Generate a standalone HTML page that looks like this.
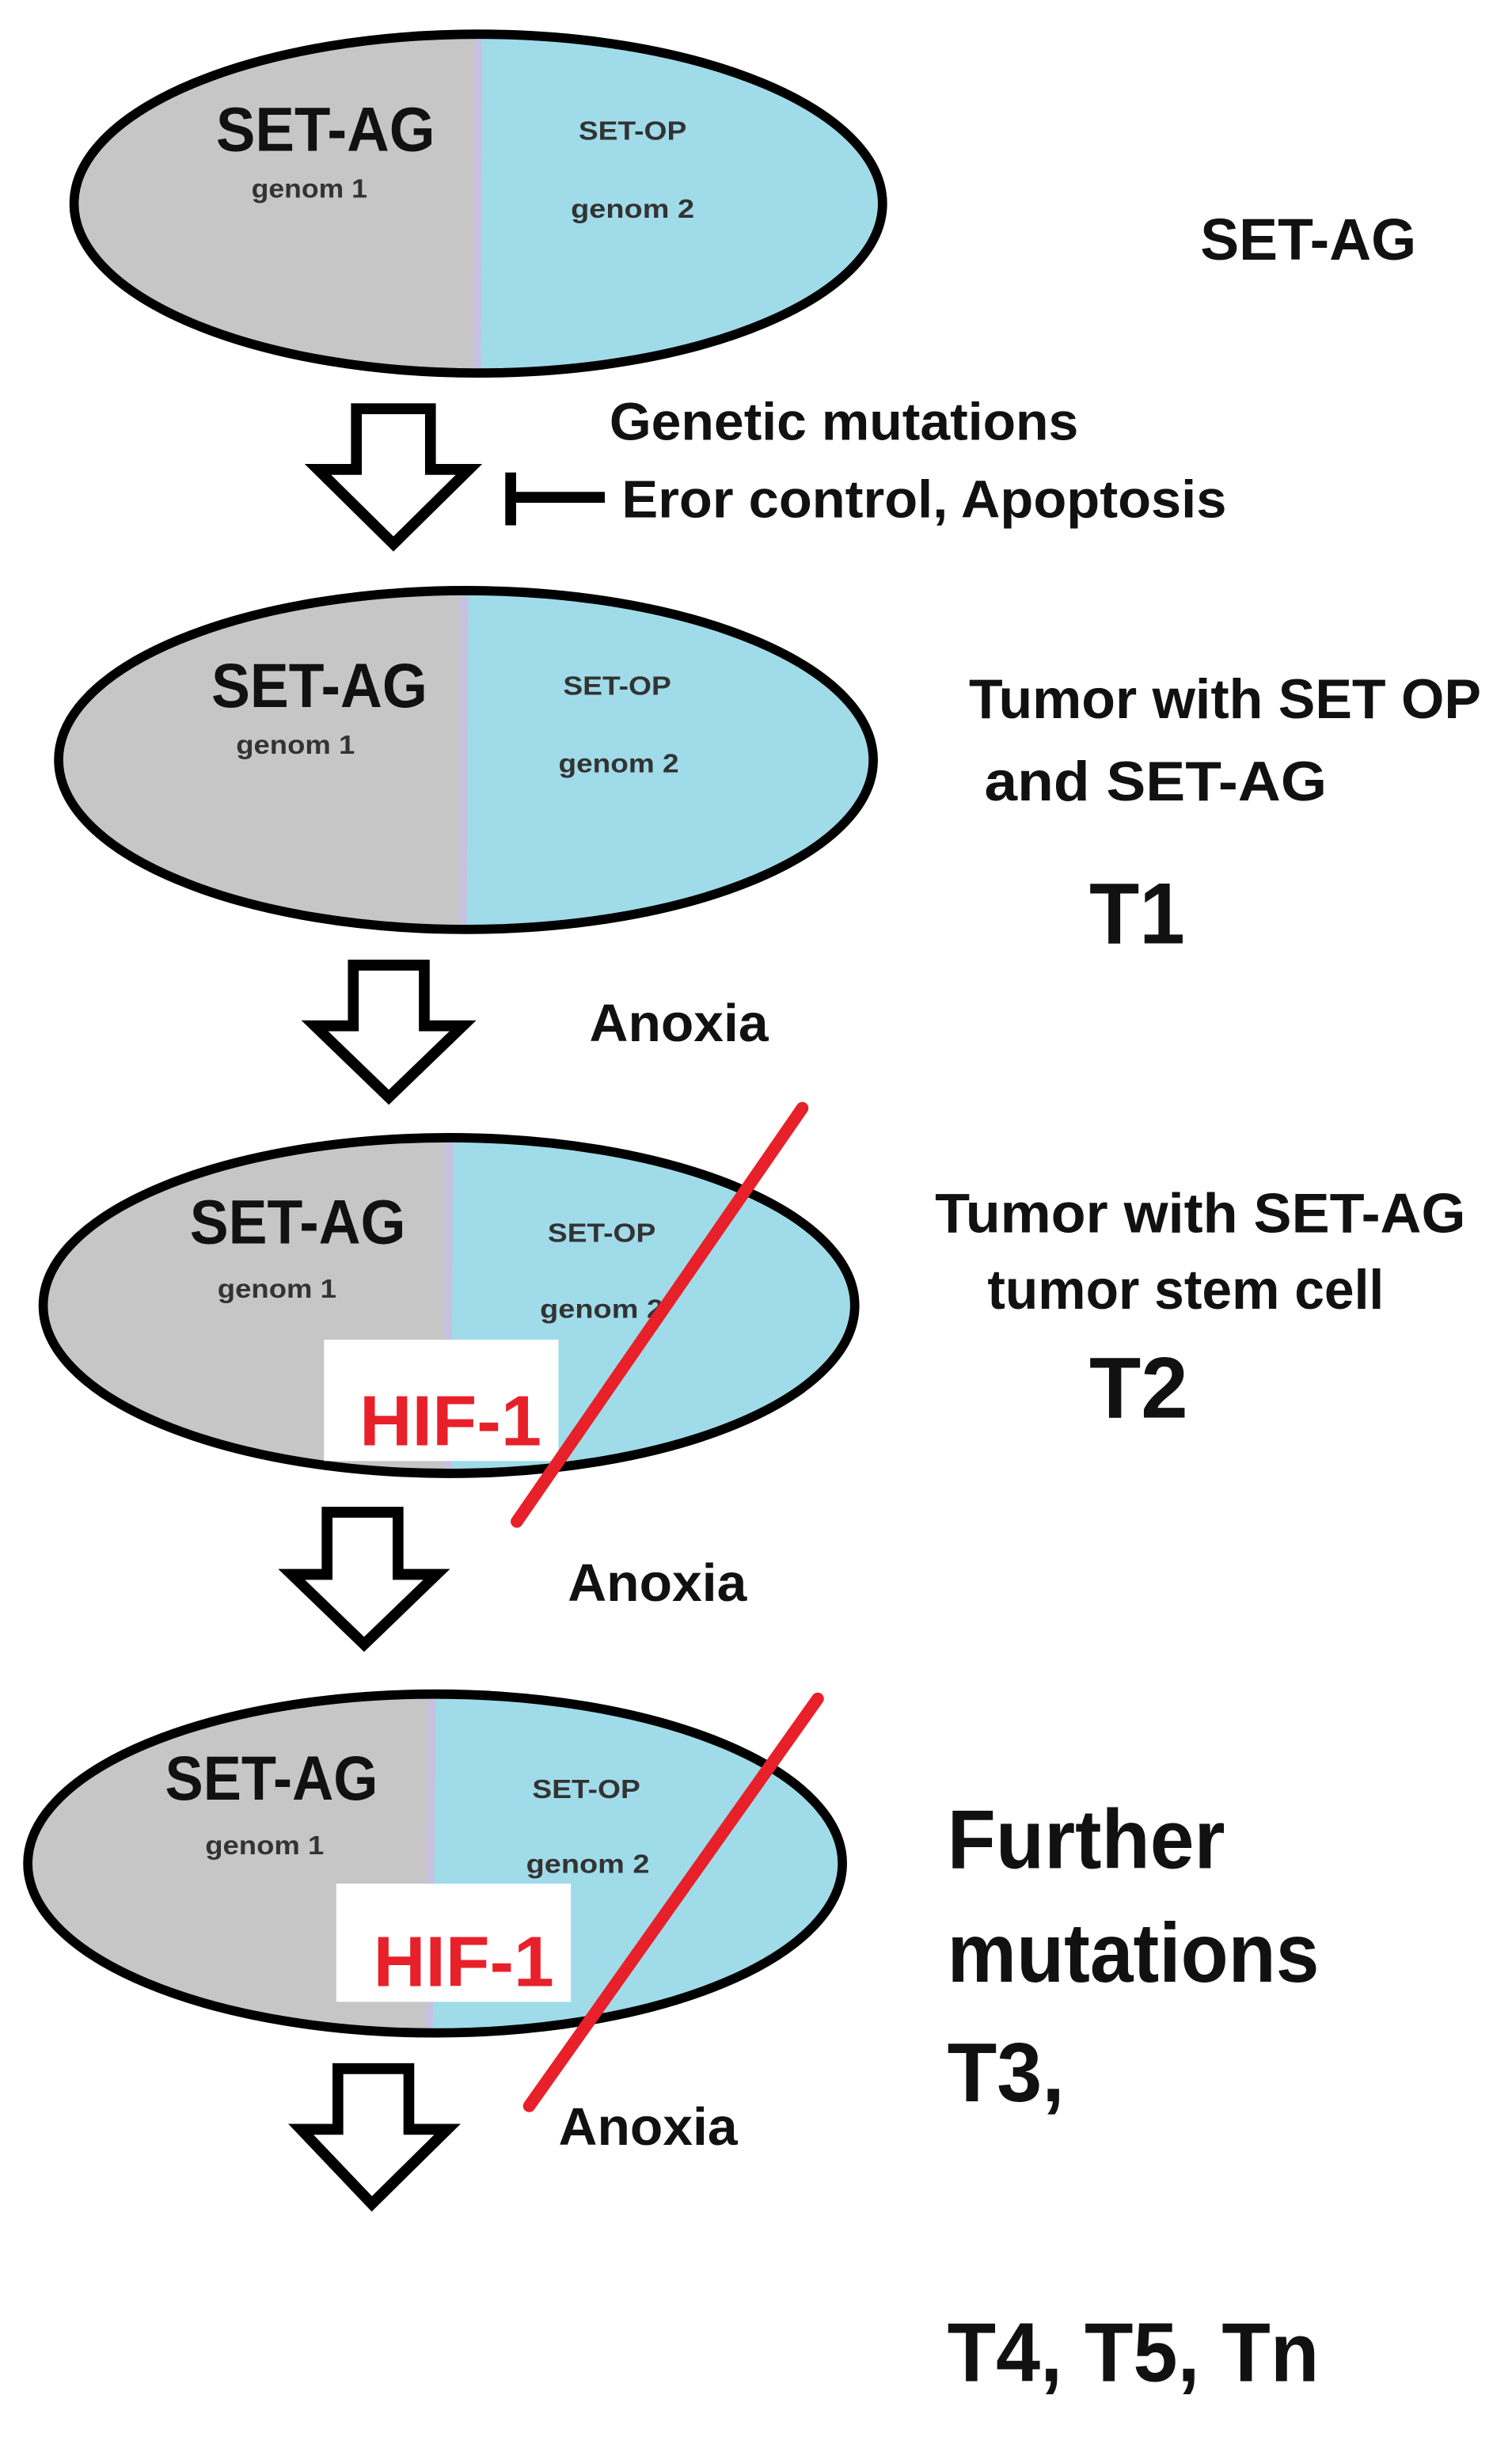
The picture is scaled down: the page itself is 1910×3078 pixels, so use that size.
<!DOCTYPE html>
<html><head><meta charset="utf-8"><style>
html,body{margin:0;padding:0;background:#fff;}
svg{display:block;}
text{font-family:"Liberation Sans Narrow","Liberation Sans",sans-serif;font-weight:bold;fill:#111;}
.s{font-weight:bold;fill:#333;}
</style></head><body>
<svg width="1910" height="3078" viewBox="0 0 980 1568" preserveAspectRatio="none" xmlns="http://www.w3.org/2000/svg">
<defs>
<clipPath id="c1"><rect x="0" y="0" width="310" height="300"/></clipPath>
<clipPath id="c2"><rect x="0" y="350" width="300" height="300"/></clipPath>
<clipPath id="c3"><rect x="0" y="700" width="290" height="300"/></clipPath>
<clipPath id="c4"><rect x="0" y="1060" width="280" height="300"/></clipPath>
</defs>

<!-- Ellipse 1 -->
<ellipse cx="310" cy="131" rx="262" ry="109" fill="#a0dbe9"/>
<ellipse cx="310" cy="131" rx="262" ry="109" fill="#c6c6c6" clip-path="url(#c1)"/>
<line x1="310" y1="24" x2="309" y2="238" stroke="#c8c0e0" stroke-width="5"/>
<ellipse cx="310" cy="131" rx="262" ry="109" fill="none" stroke="#000" stroke-width="6"/>
<text x="140" y="97" font-size="40" textLength="142" lengthAdjust="spacingAndGlyphs">SET-AG</text>
<text class="s" x="163" y="127" font-size="17" textLength="75" lengthAdjust="spacingAndGlyphs">genom 1</text>
<text class="s" x="375" y="90" font-size="17" textLength="70" lengthAdjust="spacingAndGlyphs">SET-OP</text>
<text class="s" x="370" y="140" font-size="17" textLength="80" lengthAdjust="spacingAndGlyphs">genom 2</text>
<text x="778" y="167" font-size="38" textLength="140" lengthAdjust="spacingAndGlyphs">SET-AG</text>

<!-- Arrow 1 + inhibitor -->
<path d="M231 263 H279 V302 H304 L255 350 L206 302 H231 Z" fill="#fff" stroke="#000" stroke-width="7" stroke-linejoin="miter"/>
<line x1="331" y1="304" x2="331" y2="338" stroke="#000" stroke-width="7"/>
<line x1="331" y1="320" x2="392" y2="320" stroke="#000" stroke-width="7"/>
<text x="395" y="283" font-size="34" textLength="304" lengthAdjust="spacingAndGlyphs">Genetic mutations</text>
<text x="403" y="333" font-size="34" textLength="392" lengthAdjust="spacingAndGlyphs">Eror control, Apoptosis</text>

<!-- Ellipse 2 -->
<ellipse cx="302" cy="489" rx="264" ry="109" fill="#a0dbe9"/>
<ellipse cx="302" cy="489" rx="264" ry="109" fill="#c6c6c6" clip-path="url(#c2)"/>
<line x1="301" y1="382" x2="300" y2="596" stroke="#c8c0e0" stroke-width="5"/>
<ellipse cx="302" cy="489" rx="264" ry="109" fill="none" stroke="#000" stroke-width="6"/>
<text x="137" y="455" font-size="40" textLength="140" lengthAdjust="spacingAndGlyphs">SET-AG</text>
<text class="s" x="153" y="485" font-size="17" textLength="77" lengthAdjust="spacingAndGlyphs">genom 1</text>
<text class="s" x="365" y="447" font-size="17" textLength="70" lengthAdjust="spacingAndGlyphs">SET-OP</text>
<text class="s" x="362" y="497" font-size="17" textLength="78" lengthAdjust="spacingAndGlyphs">genom 2</text>
<text x="628" y="462" font-size="36" textLength="332" lengthAdjust="spacingAndGlyphs">Tumor with SET OP</text>
<text x="638" y="515" font-size="36" textLength="222" lengthAdjust="spacingAndGlyphs">and  SET-AG</text>
<text x="706" y="607" font-size="56" textLength="62" lengthAdjust="spacingAndGlyphs">T1</text>

<!-- Arrow 2 -->
<path d="M229 621 H275 V660 H300 L252 706 L204 660 H229 Z" fill="#fff" stroke="#000" stroke-width="7"/>
<text x="382" y="670" font-size="34" textLength="116" lengthAdjust="spacingAndGlyphs">Anoxia</text>

<!-- Ellipse 3 -->
<ellipse cx="291" cy="840" rx="263" ry="108" fill="#a0dbe9"/>
<ellipse cx="291" cy="840" rx="263" ry="108" fill="#c6c6c6" clip-path="url(#c3)"/>
<line x1="291" y1="734" x2="290" y2="946" stroke="#c8c0e0" stroke-width="5"/>
<ellipse cx="291" cy="840" rx="263" ry="108" fill="none" stroke="#000" stroke-width="6"/>
<text x="123" y="800" font-size="40" textLength="140" lengthAdjust="spacingAndGlyphs">SET-AG</text>
<text class="s" x="141" y="835" font-size="17" textLength="77" lengthAdjust="spacingAndGlyphs">genom 1</text>
<text class="s" x="355" y="799" font-size="17" textLength="70" lengthAdjust="spacingAndGlyphs">SET-OP</text>
<text class="s" x="350" y="848" font-size="17" textLength="80" lengthAdjust="spacingAndGlyphs">genom 2</text>
<rect x="210" y="862" width="152" height="78" fill="#fff"/>
<text x="233" y="930" font-size="46" fill="#e8202a" style="fill:#e8202a" textLength="118" lengthAdjust="spacingAndGlyphs">HIF-1</text>
<line x1="520" y1="713" x2="335" y2="979" stroke="#e8202a" stroke-width="8" stroke-linecap="round"/>
<text x="606" y="793" font-size="36" textLength="344" lengthAdjust="spacingAndGlyphs">Tumor with SET-AG</text>
<text x="640" y="842" font-size="36" textLength="257" lengthAdjust="spacingAndGlyphs">tumor stem cell</text>
<text x="706" y="912" font-size="56" textLength="64" lengthAdjust="spacingAndGlyphs">T2</text>

<!-- Arrow 3 -->
<path d="M212 973 H258 V1013 H283 L236 1058 L189 1013 H212 Z" fill="#fff" stroke="#000" stroke-width="7"/>
<text x="368" y="1030" font-size="34" textLength="116" lengthAdjust="spacingAndGlyphs">Anoxia</text>

<!-- Ellipse 4 -->
<ellipse cx="282" cy="1199" rx="264" ry="109" fill="#a0dbe9"/>
<ellipse cx="282" cy="1199" rx="264" ry="109" fill="#c6c6c6" clip-path="url(#c4)"/>
<line x1="280" y1="1092" x2="278" y2="1306" stroke="#c8c0e0" stroke-width="5"/>
<ellipse cx="282" cy="1199" rx="264" ry="109" fill="none" stroke="#000" stroke-width="6"/>
<text x="107" y="1158" font-size="40" textLength="138" lengthAdjust="spacingAndGlyphs">SET-AG</text>
<text class="s" x="133" y="1193" font-size="17" textLength="77" lengthAdjust="spacingAndGlyphs">genom 1</text>
<text class="s" x="345" y="1157" font-size="17" textLength="70" lengthAdjust="spacingAndGlyphs">SET-OP</text>
<text class="s" x="341" y="1205" font-size="17" textLength="80" lengthAdjust="spacingAndGlyphs">genom 2</text>
<rect x="218" y="1212" width="152" height="76" fill="#fff"/>
<text x="242" y="1278" font-size="46" style="fill:#e8202a" textLength="117" lengthAdjust="spacingAndGlyphs">HIF-1</text>
<line x1="530" y1="1093" x2="343" y2="1355" stroke="#e8202a" stroke-width="8" stroke-linecap="round"/>
<text x="614" y="1202" font-size="54" textLength="180" lengthAdjust="spacingAndGlyphs">Further</text>
<text x="614" y="1275" font-size="54" textLength="241" lengthAdjust="spacingAndGlyphs">mutations</text>
<text x="614" y="1352" font-size="54" textLength="76" lengthAdjust="spacingAndGlyphs">T3,</text>
<text x="614" y="1532" font-size="54" textLength="241" lengthAdjust="spacingAndGlyphs">T4, T5, Tn</text>

<!-- Arrow 4 -->
<path d="M219 1331 H265 V1370 H290 L241 1418 L195 1370 H219 Z" fill="#fff" stroke="#000" stroke-width="7"/>
<text x="362" y="1380" font-size="34" textLength="116" lengthAdjust="spacingAndGlyphs">Anoxia</text>
</svg>
</body></html>
